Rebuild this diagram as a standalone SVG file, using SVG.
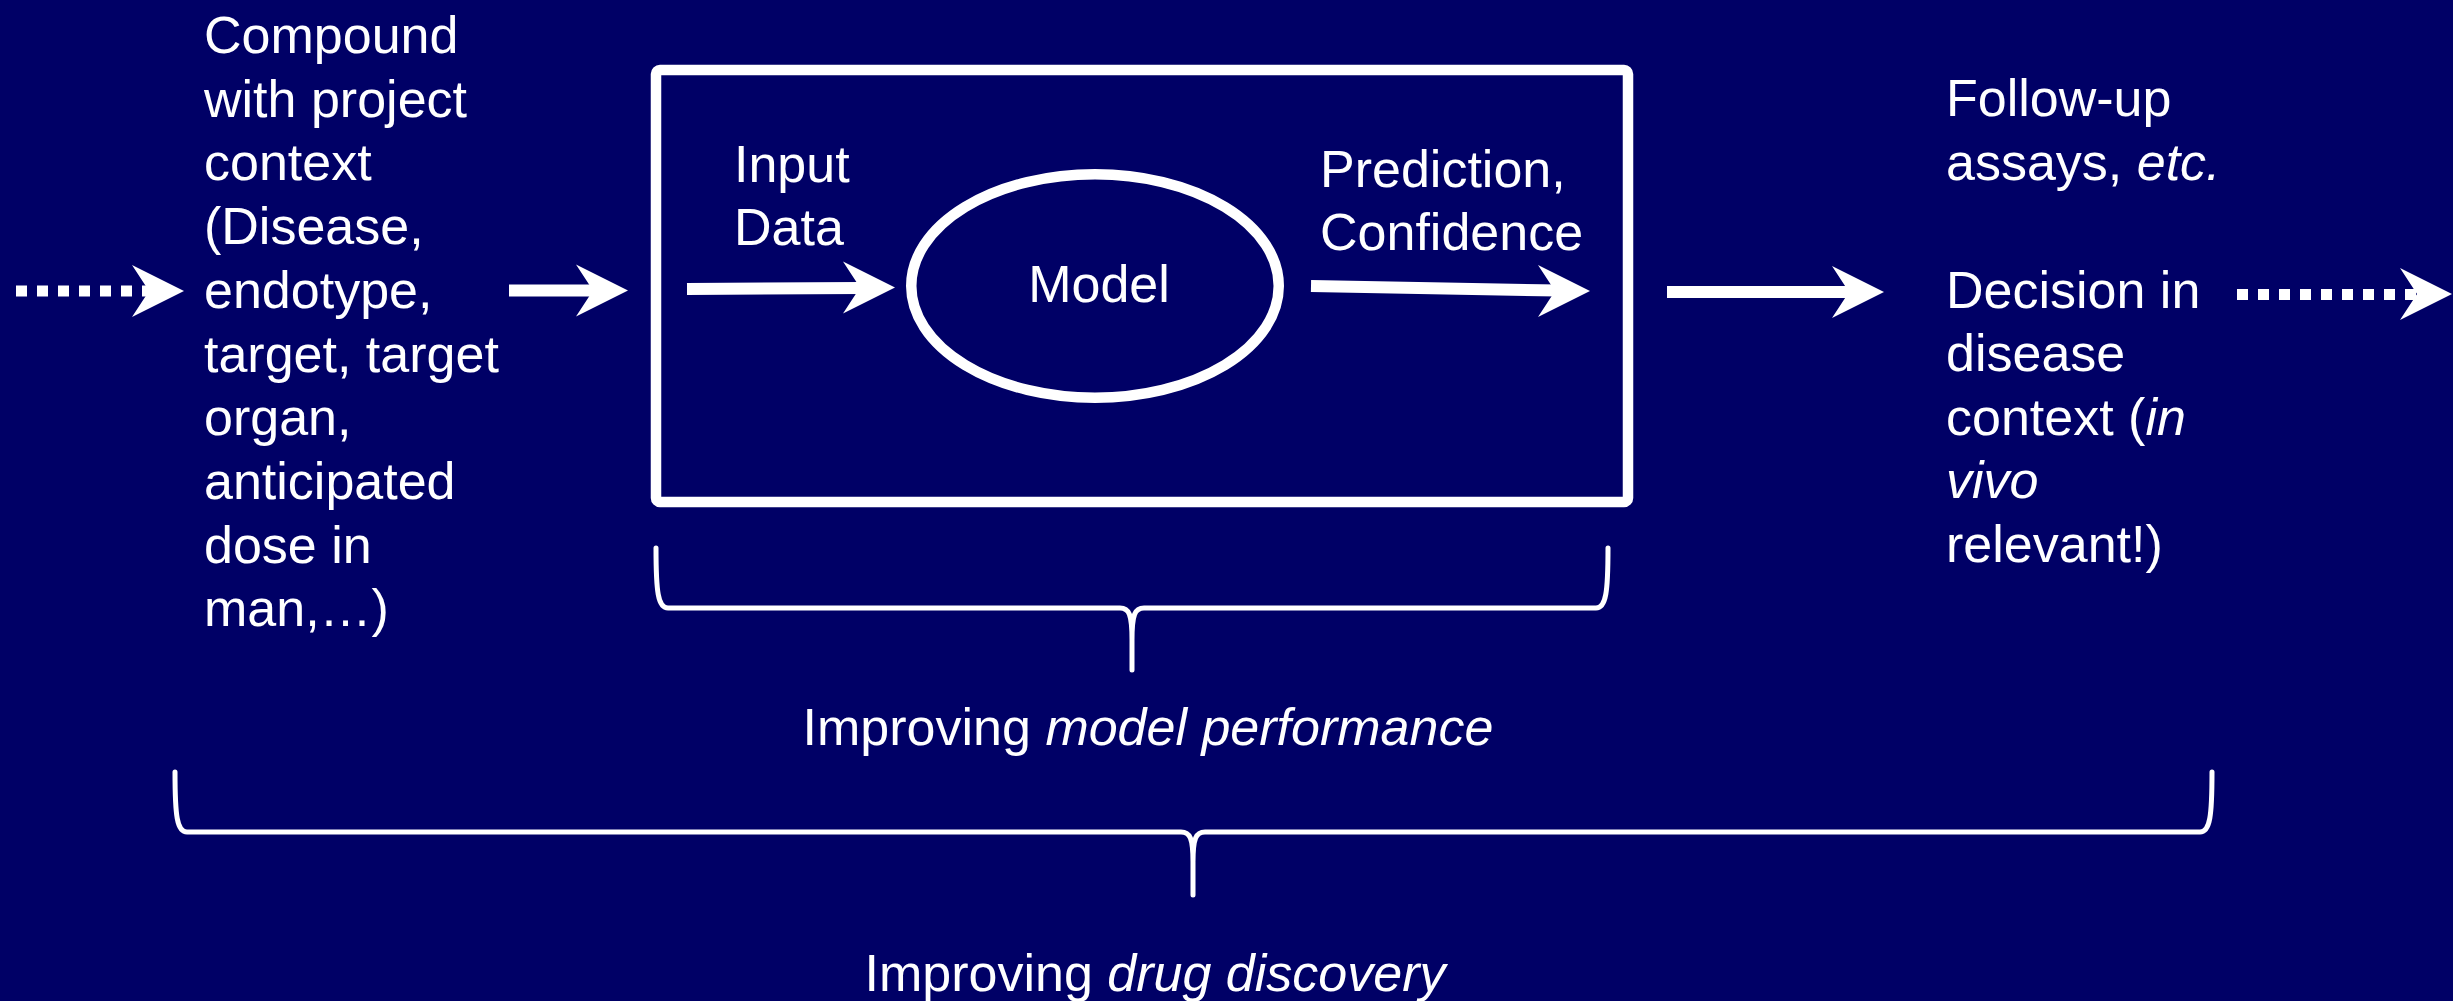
<svg xmlns="http://www.w3.org/2000/svg" xmlns:xlink="http://www.w3.org/1999/xlink" width="2453" height="1001" viewBox="0 0 2453 1001">
<style>
.t{font-family:"Liberation Sans",Arial,sans-serif;font-size:52px;fill:#ffffff}
.i{font-style:italic}
.ln{stroke:#ffffff;stroke-width:12;fill:none}
.dot{stroke:#ffffff;stroke-width:11;fill:none;stroke-dasharray:11 10}
.br{stroke:#ffffff;stroke-width:5;fill:none;stroke-linejoin:round;stroke-linecap:round}
.shape{stroke:#ffffff;stroke-width:10.5;fill:none}
</style>
<defs>
<path id="ah" d="M0 0 L-52 -26 L-35 0 L-52 26 Z" fill="#ffffff"/>
</defs>
<rect x="0" y="0" width="2453" height="1001" fill="#000066"/>

<g id="compound">
<text class="t" x="204" y="53">Compound</text>
<text class="t" x="204" y="116.7">with project</text>
<text class="t" x="204" y="180.4">context</text>
<text class="t" x="204" y="244">(Disease,</text>
<text class="t" x="204" y="307.8">endotype,</text>
<text class="t" x="204" y="371.5">target, target</text>
<text class="t" x="204" y="435.2">organ,</text>
<text class="t" x="204" y="498.9">anticipated</text>
<text class="t" x="204" y="562.6">dose in</text>
<text class="t" x="204" y="626.3">man,…)</text>
</g>

<g id="process-box">
<rect class="shape" x="656" y="70" width="972" height="432" rx="4"/>
</g>

<g id="input-data">
<text class="t" x="734" y="181.5">Input</text>
<text class="t" x="734" y="245">Data</text>
</g>

<g id="model">
<ellipse class="shape" cx="1095" cy="286" rx="183.75" ry="111.75"/>
<text class="t" x="1099" y="302" text-anchor="middle">Model</text>
</g>

<g id="prediction">
<text class="t" x="1320" y="186.5">Prediction,</text>
<text class="t" x="1320" y="250">Confidence</text>
</g>

<g id="decision">
<text class="t" x="1946" y="116">Follow-up</text>
<text class="t" x="1946" y="179.7">assays, <tspan class="i">etc.</tspan></text>
<text class="t" x="1946" y="307.5">Decision in</text>
<text class="t" x="1946" y="371">disease</text>
<text class="t" x="1946" y="434.7">context (<tspan class="i">in</tspan></text>
<text class="t" x="1946" y="498.4" font-style="italic">vivo</text>
<text class="t" x="1946" y="562">relevant!)</text>
</g>

<g id="connectors">
<line class="dot" x1="16" y1="291" x2="150" y2="291"/>
<use xlink:href="#ah" x="184" y="291"/>
<line class="ln" x1="509" y1="290.5" x2="596" y2="290.5"/>
<use xlink:href="#ah" x="628" y="290.5"/>
<line class="ln" x1="687" y1="289" x2="862" y2="288"/>
<use xlink:href="#ah" x="895" y="287.5"/>
<line class="ln" x1="1311" y1="286" x2="1558" y2="290.5"/>
<use xlink:href="#ah" x="1590" y="291"/>
<line class="ln" x1="1667" y1="292" x2="1850" y2="292"/>
<use xlink:href="#ah" x="1884" y="292"/>
<line class="dot" x1="2237" y1="294.5" x2="2420" y2="294.5"/>
<use xlink:href="#ah" x="2452" y="294"/>
</g>

<g id="model-brace">
<path class="br" d="M656 548 C656 592 658 608 668 608 L1120 608 C1129 608 1132 614 1132 640 L1132 670 M1132 640 C1132 614 1135 608 1144 608 L1596 608 C1606 608 1608 592 1608 548"/>
<text class="t" x="1148" y="745" text-anchor="middle">Improving <tspan class="i">model performance</tspan></text>
</g>

<g id="discovery-brace">
<path class="br" d="M175 772 C175 816 177 832 187 832 L1181 832 C1190 832 1193 838 1193 862 L1193 895 M1193 862 C1193 838 1196 832 1205 832 L2200 832 C2210 832 2212 816 2212 772"/>
<text class="t" x="1155" y="991" text-anchor="middle">Improving <tspan class="i">drug discovery</tspan></text>
</g>
</svg>
